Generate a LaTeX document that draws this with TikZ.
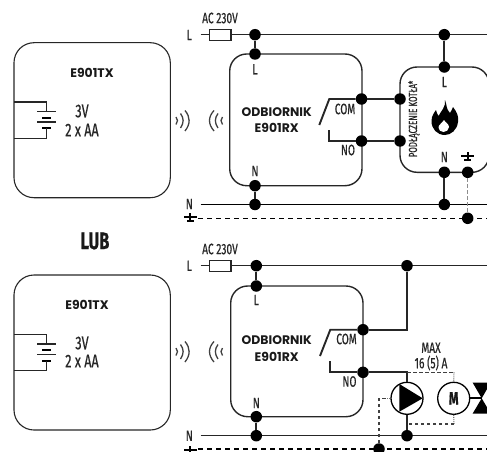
\documentclass[tikz,border=0pt]{standalone}
\usepackage{fontspec}
\setmainfont{Fira Sans}[FakeStretch=0.68,FakeBold=0.5]
\newfontfamily\titlefont{Poppins}
\colorlet{ink}{black!85}
\tikzset{
  x=1pt,y=-1pt,
  dot/.style={circle,fill=black,inner sep=0pt,minimum size=11.5pt},
  devbox/.style={draw=ink,line width=1.4pt,rounded corners=17pt},
  txbox/.style={draw=ink,line width=1.1pt,rounded corners=20pt},
  wire/.style={draw=ink,line width=1.9pt},
  linewire/.style={draw=ink,line width=1.3pt},
  thinwire/.style={draw=ink,line width=1.1pt},
  earthwire/.style={draw=black,line width=1.2pt,dash pattern=on 5pt off 4pt},
  dashwire/.style={draw=black!75,line width=1.2pt,dash pattern=on 3.5pt off 2.5pt},
  dotwire/.style={draw=black!55,line width=1.1pt,dash pattern=on 1pt off 1pt},
  lab/.style={inner sep=0pt,text=black!85,font=\fontsize{15}{15}\selectfont},
  biglab/.style={inner sep=0pt,text=black!85,font=\fontsize{18.5}{18.5}\selectfont},
  title/.style={inner sep=0pt,text=black!90,font=\titlefont\fontsize{12.4}{12.4}\selectfont\bfseries},
  wave/.style={draw=black!75,line width=1.3pt},
  fuse/.style={draw=ink,line width=1.1pt,fill=white,minimum width=21.5pt,minimum height=11pt,inner sep=0pt},
  roundsym/.style={circle,draw=black,line width=1.3pt,fill=white,minimum size=32pt,inner sep=0pt},
}
\newcommand{\earthsym}[2]{
  \fill[black] (#1-6.5,#2-1) rectangle (#1+6.5,#2+1.2);
  \fill[black] (#1-1.1,#2-4.5) rectangle (#1+1.1,#2+5);
  \fill[black] (#1-3.5,#2+3) rectangle (#1+3.5,#2+5);
}
\begin{document}
\begin{tikzpicture}
\useasboundingbox (0,0) rectangle (487,452);
%---- transmitters
\draw[txbox] (14,42.7) rectangle (170.3,197.7);
\draw[txbox] (14,275) rectangle (170.3,430);
\node[title] (tx1) at (92,73) {E901TX};
\node[title] (tx2) at (87,305) {E901TX};
\node[biglab] (v1) at (82,111) {3V};
\node[biglab] (aa1) at (82,130) {2 x AA};
\node[biglab] (v2) at (82,343) {3V};
\node[biglab] (aa2) at (82,361) {2 x AA};
\foreach \o in {0,232.3}{
  \draw[thinwire] (14,102+\o) -- (46.7,102+\o) -- (46.7,111.7+\o);
  \draw[thinwire] (37,111.7+\o) -- (56,111.7+\o);
  \draw[draw=black,line width=2pt] (42,117.7+\o) -- (51,117.7+\o);
  \draw[thinwire] (37,122+\o) -- (56,122+\o);
  \draw[draw=black,line width=2pt] (42,128.3+\o) -- (51,128.3+\o);
  \draw[thinwire] (46.7,128.3+\o) -- (46.7,138.3+\o) -- (14,138.3+\o);
}
\foreach \o in {0,231}{
  \draw[wave] (176,117+\o) .. controls (178,119+\o) and (178,122+\o) .. (176,124.5+\o);
  \draw[wave] (180.5,113.5+\o) .. controls (184,118+\o) and (184,123+\o) .. (180.5,128+\o);
  \draw[wave] (185,110.5+\o) .. controls (190.5,117+\o) and (190.5,124+\o) .. (185,131+\o);
  \draw[wave] (222.5,117+\o) .. controls (220.5,119+\o) and (220.5,122+\o) .. (222.5,124.5+\o);
  \draw[wave] (218,113.5+\o) .. controls (214.5,118+\o) and (214.5,123+\o) .. (218,128+\o);
  \draw[wave] (214,110.5+\o) .. controls (208,117+\o) and (208,124+\o) .. (214,131+\o);
}
\node[font=\fontsize{24}{24}\selectfont\bfseries,inner sep=0pt,text=black!90] (lub) at (95,241) {LUB};
%---- top circuit
\coordinate (l1s) at (200.7,34.7);
\coordinate (l1e) at (487,34.7);
\coordinate (n1s) at (200.7,204.5);
\coordinate (n1e) at (487,204.5);
\coordinate (e1s) at (198,218.3);
\coordinate (e1e) at (487,218.3);
\draw[linewire] (l1s) -- (l1e);
\draw[draw=black,line width=1.1pt] (n1s) -- (n1e);
\draw[earthwire] (e1s) -- (e1e);
\node[fuse] (f1) at (220.2,35) {};
\draw[devbox] (229.7,54) rectangle (362,185.7);
\draw[devbox] (400,67) rectangle (489,172.3);
\node[dot] (j1) at (255,34.7) {};
\node[dot] (j2) at (255,54) {};
\node[dot] (j3) at (255,185.7) {};
\node[dot] (j4) at (255,204.5) {};
\node[dot] (c1) at (361.5,99) {};
\node[dot] (n1) at (361.5,141) {};
\node[dot] (c2) at (400,99) {};
\node[dot] (n2) at (400,141) {};
\node[dot] (b1) at (444.3,34.7) {};
\node[dot] (b2) at (444.3,67) {};
\node[dot] (b3) at (444.3,172.3) {};
\node[dot] (b4) at (444.3,204.5) {};
\node[dot] (g1) at (467.7,172.3) {};
\node[dot] (g2) at (467.7,218.3) {};
\draw[wire] (j1) -- (j2);
\draw[wire] (j3) -- (j4);
\draw[wire] (c1) -- (c2);
\draw[wire] (n1) -- (n2);
\draw[wire] (b1) -- (b2);
\draw[wire] (b3) -- (b4);
\draw[dashwire,draw=black!45,line width=1.3pt] (g1) -- (g2);
\coordinate (s1a) at (329.3,99);
\coordinate (s1b) at (319.3,125);
\coordinate (s1c) at (329.3,130);
\coordinate (s1d) at (329.3,141);
\draw[wire] (c1) -- (s1a) -- (s1b);
\draw[wire] (s1c) -- (s1d) -- (n1);
\node[lab] (t1) at (220,18) {AC 230V};
\node[lab] at (189.3,35) {L};
\node[lab] at (189.3,204) {N};
\node[lab] at (255,69.3) {L};
\node[lab] at (255,171) {N};
\node[lab] at (345,109) {COM};
\node[lab] at (348,150) {NO};
\node[title] at (276.7,112) {ODBIORNIK};
\node[title] at (276.7,128) {E901RX};
\node[lab] at (444.3,82) {L};
\node[lab] at (444.3,157) {N};
\node[lab,rotate=90,font=\fontsize{11.7}{11.7}\selectfont] at (414,119) {PODŁĄCZENIE KOTŁA*};
% flame
\fill[black] (445,100) .. controls (447,105) and (446,109) .. (450,113)
  .. controls (452,110) and (452,109) .. (453,107)
  .. controls (457,112) and (459,117) .. (458,122)
  .. controls (457,130) and (451,135) .. (445,135)
  .. controls (437,135) and (431.5,129) .. (431.5,121)
  .. controls (431.5,116) and (434,113) .. (436,110)
  .. controls (437,113) and (437,114) .. (438.5,116)
  .. controls (441,111) and (446,107) .. (445,100) -- cycle;
\fill[white] (444,120) .. controls (445,122) and (449,124) .. (449,127)
  .. controls (449,130) and (446,132) .. (443.5,132)
  .. controls (440.5,132) and (438.5,130) .. (438.5,127.5)
  .. controls (438.5,125) and (442,123) .. (444,120) -- cycle;
\earthsym{190}{217}
\earthsym{467.7}{156}
%---- bottom circuit
\coordinate (l2s) at (200.7,265.7);
\coordinate (l2e) at (487,265.7);
\coordinate (n2s) at (200.7,435.7);
\coordinate (n2e) at (487,435.7);
\coordinate (e2s) at (198,449);
\coordinate (e2e) at (487,449);
\draw[linewire] (l2s) -- (l2e);
\draw[linewire] (n2s) -- (n2e);
\draw[earthwire] (e2s) -- (e2e);
\node[fuse] (f2) at (220.2,265.7) {};
\draw[devbox] (230.7,286) rectangle (363,416.7);
\node[dot] (k1) at (256.3,265.7) {};
\node[dot] (k2) at (256.3,286) {};
\node[dot] (k3) at (256.3,416.7) {};
\node[dot] (k4) at (256.3,435.7) {};
\node[dot] (d1) at (363,329.7) {};
\node[dot] (d2) at (363,372.3) {};
\node[dot] (p1) at (407,265.7) {};
\node[dot] (p4) at (407,435.7) {};
\node[dot] (g3) at (379,449) {};
\coordinate (p2) at (407,329.7);
\coordinate (p3) at (407,372.3);
\node[roundsym] (pump) at (407,398.3) {};
\node[roundsym] (motor) at (453.7,398.3) {};
\fill[black] (399.3,384) -- (422.7,398.3) -- (399.3,411.7) -- cycle;
\node[inner sep=0pt,text=black!90,font=\fontsize{18}{18}\selectfont\bfseries] at (motor) {M};
\draw[wire] (k1) -- (k2);
\draw[wire] (k3) -- (k4);
\draw[wire] (p1) -- (p2) -- (d1);
\draw[wire] (d2) -- (p3) -- (pump.north);
\draw[wire] (pump.south) -- (p4);
\coordinate (s2a) at (330.3,329.7);
\coordinate (s2b) at (320,356);
\coordinate (s2c) at (330.3,361);
\coordinate (s2d) at (330.3,372.3);
\draw[wire] (d1) -- (s2a) -- (s2b);
\draw[wire] (s2c) -- (s2d) -- (d2);
% dashed bridges
\coordinate (m1) at (454,372.3);
\coordinate (m2) at (454,424);
\coordinate (m3) at (407,424);
\coordinate (e3) at (379,398.3);
\coordinate (e4) at (386,398.3);
\coordinate (e5) at (387,398.3);
\draw[dashwire] (p3) -- (m1);
\draw[dotwire] (m1) -- (motor.north);
\draw[dotwire] (motor.south) -- (m2);
\draw[dashwire] (m2) -- (m3);
\draw[dashwire] (g3) -- (e3) -- (e4);
\draw[dotwire] (e5) -- (pump.west);
% valve
\coordinate (vc) at (481.7,398.3);
\fill[black] (472.7,382.7) -- (490.7,382.7) -- (vc) -- cycle;
\fill[black] (472.7,413.5) -- (490.7,413.5) -- (vc) -- cycle;
\draw[draw=black,line width=2.2pt] (motor.east) -- (vc);
\node[lab] at (220,249) {AC 230V};
\node[lab] at (189.3,265.7) {L};
\node[lab] at (189.3,435.7) {N};
\node[lab] at (256.3,300) {L};
\node[lab] at (256.3,403) {N};
\node[lab] at (346.5,339) {COM};
\node[lab] at (349.5,381.5) {NO};
\node[title] at (276.7,340) {ODBIORNIK};
\node[title] at (276.7,357) {E901RX};
\node[lab] at (431,347.7) {MAX};
\node[lab] at (431,363) {16 (5) A};
\earthsym{190}{450}
\end{tikzpicture}
\end{document}
